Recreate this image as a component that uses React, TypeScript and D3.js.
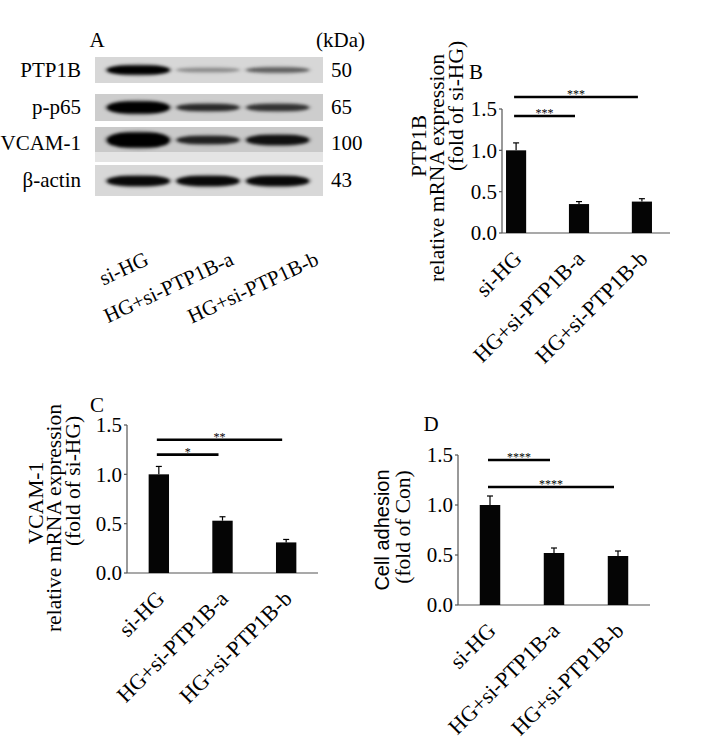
import React from 'react';
import * as d3 from 'd3';

// groups shared by every panel
const groups = ['si-HG', 'HG+si-PTP1B-a', 'HG+si-PTP1B-b'];

// western blot (panel A)
const blotRows = ['PTP1B', 'p-p65', 'VCAM-1', 'β-actin'];
const blotKda = ['50', '65', '100', '43'];
const blotIntensity = [
  [1.0, 0.3, 0.5],
  [1.0, 0.75, 0.7],
  [1.0, 0.8, 0.9],
  [0.95, 0.95, 0.95],
];
const blotThickness = [
  [9, 4, 5],
  [12, 7, 7],
  [15, 8, 10],
  [10, 10, 10],
];

// bar panels
const yTicks = [0, 0.5, 1.0, 1.5];
const ptp1bMean = [1.0, 0.35, 0.38];
const ptp1bErr = [0.09, 0.03, 0.035];
const ptp1bSig = [
  { from: 0, to: 1, at: 1.415, label: '***' },
  { from: 0, to: 2, at: 1.645, label: '***' },
];
const vcamMean = [1.0, 0.53, 0.31];
const vcamErr = [0.08, 0.04, 0.03];
const vcamSig = [
  { from: 0, to: 1, at: 1.2, label: '*' },
  { from: 0, to: 2, at: 1.35, label: '**' },
];
const adhesionMean = [1.0, 0.52, 0.49];
const adhesionErr = [0.09, 0.05, 0.05];
const adhesionSig = [
  { from: 0, to: 1, at: 1.45, label: '****' },
  { from: 0, to: 2, at: 1.18, label: '****' },
];

const serif = '"Liberation Serif", "Times New Roman", serif';
const sans = '"Liberation Sans", Arial, sans-serif';

// strip geometry for the blot (layout only)
const stripGeom = [
  { top: 57, h: 26, bg: '#d7d7d7', band: 70, label: 70 },
  { top: 94, h: 27, bg: '#cdcdcd', band: 107.5, label: 107 },
  { top: 127, h: 35, bg: '#c9c9c9', band: 140, label: 143 },
  { top: 165, h: 31, bg: '#d8d8d8', band: 181, label: 180 },
];

const Blot = () => {
  const lane = d3.scaleBand<string>().domain(groups).range([100, 316]).padding(0.1);
  const labelX = d3.scalePoint<string>().domain(groups).range([150, 320]);
  return (
    <g>
      <text x={97} y={40} dy="0.35em" textAnchor="middle" fontFamily={serif} fontSize={21}>A</text>
      <text x={316} y={40} dy="0.35em" fontFamily={serif} fontSize={21}>(kDa)</text>
      {blotRows.map((row, i) => {
        const g = stripGeom[i];
        return (
          <g key={row}>
            <text x={81} y={g.label} dy="0.35em" textAnchor="end" fontFamily={serif} fontSize={21}>{row}</text>
            <text x={331} y={g.label} dy="0.35em" fontFamily={serif} fontSize={21}>{blotKda[i]}</text>
            <rect x={95} y={g.top} width={228} height={g.h} fill={g.bg} />
            {row === 'VCAM-1' && <rect x={95} y={g.top + 25} width={228} height={g.h - 25} fill="#e4e4e4" />}
            {groups.map((grp, j) => {
              const t = blotThickness[i][j];
              const op = blotIntensity[i][j];
              const x = lane(grp)!;
              const w = lane.bandwidth();
              return (
                <g key={grp} filter="url(#blur)">
                  <ellipse cx={x + w / 2} cy={g.band} rx={w / 2 + 3} ry={t / 2 + 2} fill="#000" opacity={op * 0.25} />
                  <rect x={x} y={g.band - t / 2} width={w} height={t} rx={w / 3} ry={t / 2}
                    fill="#050505" opacity={op} />
                </g>
              );
            })}
          </g>
        );
      })}
      {groups.map((grp) => (
        <text key={grp} transform={`translate(${labelX(grp)},264) rotate(-25)`} textAnchor="end"
          fontFamily={serif} fontSize={21}>{grp}</text>
      ))}
    </g>
  );
};

interface YLabel { text: string; x: number; y: number; font?: string; }
interface BarPanelProps {
  letter: string;
  letterX: number;
  letterY: number;
  xRange: [number, number];
  xEnd: number;
  outer: number;
  yRange: [number, number];
  mean: number[];
  err: number[];
  sig: { from: number; to: number; at: number; label: string }[];
  yLabels: YLabel[];
}

const BarPanel = ({ letter, letterX, letterY, xRange, xEnd, outer, yRange, mean, err, sig, yLabels }: BarPanelProps) => {
  const x = d3.scaleBand<string>().domain(groups).range(xRange).paddingInner(0.68).paddingOuter(outer);
  const y = d3.scaleLinear().domain([0, 1.5]).range(yRange);
  const bw = x.bandwidth();
  const cx = (i: number) => x(groups[i])! + bw / 2;
  const x0 = xRange[0];
  return (
    <g>
      <text x={letterX} y={letterY} dy="0.35em" textAnchor="middle" fontFamily={serif} fontSize={21}>{letter}</text>
      {yLabels.map((l) => (
        <text key={l.text} transform={`translate(${l.x},${l.y}) rotate(-90)`} textAnchor="middle"
          dy="0.35em" fontFamily={l.font || serif} fontSize={l.font ? 20 : 21.5}>{l.text}</text>
      ))}
      {/* axes */}
      <line x1={x0} x2={x0} y1={y(1.5)} y2={y(0)} stroke="#555" strokeWidth={1.2} />
      <line x1={x0} x2={xEnd} y1={y(0)} y2={y(0)} stroke="#555" strokeWidth={1.2} />
      {yTicks.map((t) => (
        <g key={t}>
          <line x1={x0 - 3} x2={x0} y1={y(t)} y2={y(t)} stroke="#555" strokeWidth={1.2} />
          <text x={x0 - 5} y={y(t)} dy="0.35em" textAnchor="end" fontFamily={serif} fontSize={21}>{t.toFixed(1)}</text>
        </g>
      ))}
      {/* bars + error bars */}
      {groups.map((g, i) => (
        <g key={g}>
          <line x1={cx(i)} x2={cx(i)} y1={y(mean[i])} y2={y(mean[i] + err[i])} stroke="#000" strokeWidth={1.2} />
          <line x1={cx(i) - 3} x2={cx(i) + 3} y1={y(mean[i] + err[i])} y2={y(mean[i] + err[i])} stroke="#000" strokeWidth={1.2} />
          <rect x={x(g)} y={y(mean[i])} width={bw} height={y(0) - y(mean[i])} fill="#050505" />
        </g>
      ))}
      {/* significance */}
      {sig.map((s) => {
        const a = cx(s.from) - 2;
        const b = cx(s.to) - 4;
        return (
          <g key={s.to}>
            <line x1={a} x2={b} y1={y(s.at)} y2={y(s.at)} stroke="#000" strokeWidth={2.6} />
            <text x={(a + b) / 2} y={y(s.at) + 1} textAnchor="middle" fill="#000" fontFamily={serif} fontSize={12}>{s.label}</text>
          </g>
        );
      })}
      {/* category labels */}
      {groups.map((g, i) => (
        <text key={g} transform={`translate(${cx(i) + 7},${y(0) + 27}) rotate(-45)`} textAnchor="end"
          fontFamily={serif} fontSize={22}>{g}</text>
      ))}
    </g>
  );
};

export default function App() {
  return (
    <svg width={708} height={746} style={{ position: 'absolute', left: 0, top: 0, background: '#fff' }}>
      <defs>
        <filter id="blur" x="-20%" y="-100%" width="140%" height="300%">
          <feGaussianBlur stdDeviation="1.8" />
        </filter>
      </defs>
      <rect width={708} height={746} fill="#fff" />
      <Blot />
      <BarPanel letter="B" letterX={476} letterY={72} xRange={[502, 656]} xEnd={670} outer={0.064}
        yRange={[233, 109]} mean={ptp1bMean} err={ptp1bErr} sig={ptp1bSig}
        yLabels={[
          { text: 'PTP1B', x: 418, y: 146 },
          { text: 'relative mRNA expression', x: 436, y: 168 },
          { text: '(fold of si-HG)', x: 455, y: 106 },
        ]} />
      <BarPanel letter="C" letterX={97} letterY={405} xRange={[127, 318]} xEnd={318} outer={0.34}
        yRange={[573, 425]} mean={vcamMean} err={vcamErr} sig={vcamSig}
        yLabels={[
          { text: 'VCAM-1', x: 35, y: 503 },
          { text: 'relative mRNA expression', x: 53, y: 518 },
          { text: '(fold of si-HG)', x: 72, y: 481 },
        ]} />
      <BarPanel letter="D" letterX={431} letterY={424} xRange={[458, 650]} xEnd={650} outer={0.34}
        yRange={[605, 455]} mean={adhesionMean} err={adhesionErr} sig={adhesionSig}
        yLabels={[
          { text: 'Cell adhesion', x: 382, y: 530, font: sans },
          { text: '(fold of Con)', x: 402, y: 527 },
        ]} />
    </svg>
  );
}
